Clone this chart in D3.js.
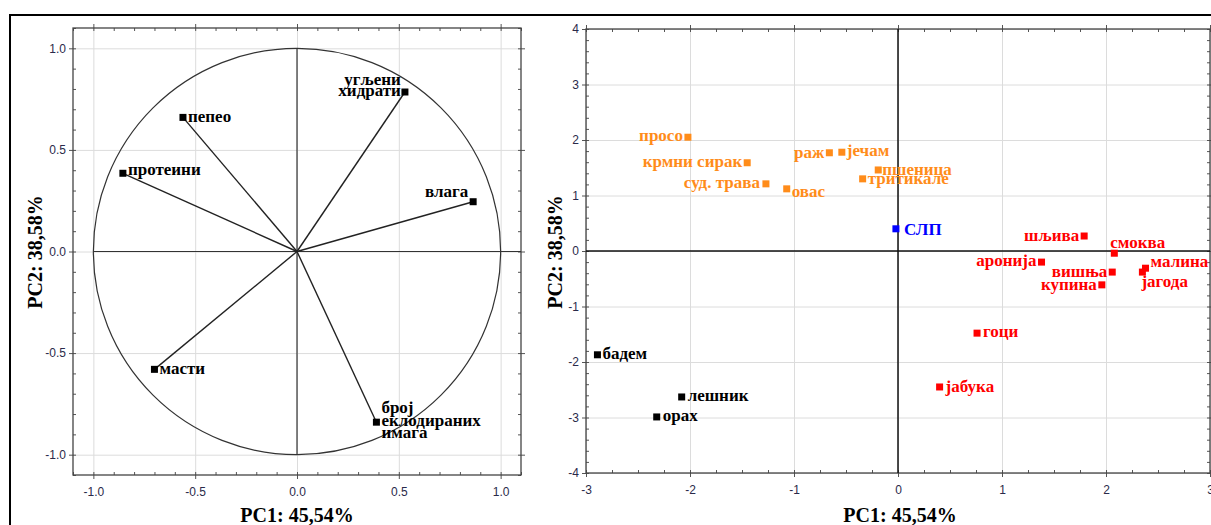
<!DOCTYPE html>
<html>
<head>
<meta charset="utf-8">
<script src="https://cdn.jsdelivr.net/npm/d3@7"></script>
<style>
  body { margin: 0; background: #fff; }
  svg { display: block; }
  .tick text { font-family: "Liberation Sans", Arial, sans-serif; font-size: 12px; fill: #2a2a4a; }
  .lbl { font-family: "Liberation Serif", "Times New Roman", serif; font-weight: bold; font-size: 17px; }
  .title { font-family: "Liberation Serif", "Times New Roman", serif; font-weight: bold; font-size: 20px; fill: #000; }
</style>
</head>
<body>
<div id="chart"></div>
<script>
// ---- data: loadings (left panel) ----
const loadingNames = ["угљени\nхидрати", "пепео", "протеини", "влага", "масти", "број\nеклодираних\nимага"];
const loadingPC1 = [0.53, -0.56, -0.855, 0.865, -0.70, 0.39];
const loadingPC2 = [0.785, 0.66, 0.385, 0.245, -0.58, -0.84];

// ---- data: scores (right panel) ----
const scoreNames = ["просо", "крмни сирак", "суд. трава", "овас", "раж", "јечам", "пшеница", "тритикале",
  "СЛП",
  "шљива", "смоква", "аронија", "вишња", "купина", "малина", "јагода", "гоци", "јабука",
  "бадем", "лешник", "орах"];
const scorePC1 = [-2.02, -1.45, -1.27, -1.07, -0.66, -0.54, -0.19, -0.34,
  -0.02,
  1.79, 2.08, 1.38, 2.06, 1.96, 2.38, 2.35, 0.76, 0.40,
  -2.89, -2.08, -2.32];
const scorePC2 = [2.05, 1.59, 1.21, 1.12, 1.77, 1.78, 1.46, 1.30,
  0.40,
  0.27, -0.04, -0.20, -0.38, -0.61, -0.31, -0.38, -1.48, -2.45,
  -1.87, -2.63, -2.99];
const scoreGroup = ["cereal", "cereal", "cereal", "cereal", "cereal", "cereal", "cereal", "cereal",
  "ref",
  "fruit", "fruit", "fruit", "fruit", "fruit", "fruit", "fruit", "fruit", "fruit",
  "nut", "nut", "nut"];

// ---- tick labels ----
const leftTicks = [-1, -0.5, 0, 0.5, 1];
const rightXTicks = [-3, -2, -1, 0, 1, 2, 3];
const rightYTicks = [-4, -3, -2, -1, 0, 1, 2, 3, 4];
const xTitle = "PC1: 45,54%";
const yTitle = "PC2: 38,58%";

// ---- styles / label placement ----
const groupColor = { cereal: "#ff8c1a", ref: "#0000ff", fruit: "#ff0000", nut: "#000000" };
const loadPlace = {
  "угљени\nхидрати": { dx: -4, dy: -7, anchor: "end", lh: 11 },
  "пепео": { dx: 5, dy: 5, anchor: "start" },
  "протеини": { dx: 5, dy: 2, anchor: "start" },
  "влага": { dx: -5, dy: -5, anchor: "end" },
  "масти": { dx: 5, dy: 5, anchor: "start" },
  "број\nеклодираних\nимага": { dx: 5, dy: -9, anchor: "start", lh: 12.5 }
};
const scorePlace = {
  "просо": { dx: -5, dy: 4, anchor: "end" },
  "крмни сирак": { dx: -5, dy: 4, anchor: "end" },
  "суд. трава": { dx: -6, dy: 4, anchor: "end" },
  "овас": { dx: 5, dy: 8, anchor: "start" },
  "раж": { dx: -5, dy: 5, anchor: "end" },
  "јечам": { dx: 5, dy: 4, anchor: "start" },
  "пшеница": { dx: 4, dy: 5, anchor: "start" },
  "тритикале": { dx: 5, dy: 5, anchor: "start" },
  "СЛП": { dx: 8, dy: 6, anchor: "start", size: 17 },
  "шљива": { dx: -5, dy: 5, anchor: "end" },
  "смоква": { dx: -4, dy: -5, anchor: "start" },
  "аронија": { dx: -5, dy: 4, anchor: "end" },
  "вишња": { dx: -5, dy: 5, anchor: "end" },
  "купина": { dx: -5, dy: 5, anchor: "end" },
  "малина": { dx: 5, dy: -1, anchor: "start" },
  "јагода": { dx: -1, dy: 15, anchor: "start" },
  "гоци": { dx: 6, dy: 4, anchor: "start" },
  "јабука": { dx: 6, dy: 5, anchor: "start" },
  "бадем": { dx: 5, dy: 4, anchor: "start" },
  "лешник": { dx: 6, dy: 4, anchor: "start" },
  "орах": { dx: 6, dy: 4, anchor: "start" }
};

const W = 1211, H = 525;
const svg = d3.select("#chart").append("svg").attr("width", W).attr("height", H);

// outer frame
svg.append("rect")
  .attr("x", 10).attr("y", 15).attr("width", W + 20).attr("height", H + 20)
  .attr("fill", "none").attr("stroke", "#000").attr("stroke-width", 2);

const fmt1 = d => d.toFixed(1);
const fmt0 = d => String(d);

// draws grid, frame, ticks and labels of one panel
function frame(x, y, xt, yt, xMinor, yMinor, fx, fy) {
  const [l, r] = x.range(), [b, t] = y.range();
  const g = svg.append("g");

  // grid
  g.append("g").attr("transform", `translate(0,${b})`)
    .call(d3.axisBottom(x).tickValues(xt).tickSize(-(b - t)).tickFormat(""))
    .call(a => a.select(".domain").remove())
    .call(a => a.selectAll("line").attr("stroke", "#dcdcdc"));
  g.append("g").attr("transform", `translate(${l},0)`)
    .call(d3.axisLeft(y).tickValues(yt).tickSize(-(r - l)).tickFormat(""))
    .call(a => a.select(".domain").remove())
    .call(a => a.selectAll("line").attr("stroke", "#dcdcdc"));

  // minor ticks, inward
  const minor = [
    [d3.axisBottom(x).tickValues(xMinor), `translate(0,${b})`],
    [d3.axisTop(x).tickValues(xMinor), `translate(0,${t})`],
    [d3.axisLeft(y).tickValues(yMinor), `translate(${l},0)`],
    [d3.axisRight(y).tickValues(yMinor), `translate(${r},0)`]
  ];
  minor.forEach(([ax, tr]) => {
    g.append("g").attr("transform", tr)
      .call(ax.tickSize(-3).tickFormat(""))
      .call(a => a.select(".domain").remove())
      .call(a => a.selectAll("line").attr("stroke", "#555"));
  });

  // major ticks, outward
  g.append("g").attr("transform", `translate(0,${b})`)
    .call(d3.axisBottom(x).tickValues(xt).tickSize(4).tickPadding(8).tickFormat(fx))
    .call(a => a.select(".domain").remove())
    .call(a => a.selectAll("line").attr("stroke", "#555"));
  g.append("g").attr("transform", `translate(0,${t})`)
    .call(d3.axisTop(x).tickValues(xt).tickSize(4).tickFormat(""))
    .call(a => a.select(".domain").remove())
    .call(a => a.selectAll("line").attr("stroke", "#555"));
  g.append("g").attr("transform", `translate(${l},0)`)
    .call(d3.axisLeft(y).tickValues(yt).tickSize(4).tickPadding(3).tickFormat(fy))
    .call(a => a.select(".domain").remove())
    .call(a => a.selectAll("line").attr("stroke", "#555"));
  g.append("g").attr("transform", `translate(${r},0)`)
    .call(d3.axisRight(y).tickValues(yt).tickSize(4).tickFormat(""))
    .call(a => a.select(".domain").remove())
    .call(a => a.selectAll("line").attr("stroke", "#555"));

  g.append("rect")
    .attr("x", l).attr("y", t).attr("width", r - l).attr("height", b - t)
    .attr("fill", "none").attr("stroke", "#444").attr("stroke-width", 1.3);
  return g;
}

function titles(cx, xTitleY, yTitleX, cy) {
  svg.append("text").attr("class", "title")
    .attr("x", cx).attr("y", xTitleY).attr("text-anchor", "middle").text(xTitle);
  svg.append("text").attr("class", "title")
    .attr("transform", `translate(${yTitleX},${cy}) rotate(-90)`)
    .attr("text-anchor", "middle").text(yTitle);
}

function label(g, px, py, name, p, color) {
  const t = g.append("text").attr("class", "lbl")
    .attr("x", px + p.dx).attr("y", py + p.dy)
    .attr("text-anchor", p.anchor).attr("fill", color);
  if (p.size) t.style("font-size", p.size + "px");
  name.split("\n").forEach((s, i) => {
    t.append("tspan").attr("x", px + p.dx).attr("dy", i === 0 ? 0 : (p.lh || 12)).text(s);
  });
}

// ---------- left panel: loadings ----------
const xL = d3.scaleLinear().domain([-1.1, 1.1]).range([73, 521]);
const yL = d3.scaleLinear().domain([-1.1, 1.1]).range([475, 28]);
const minorL = d3.range(-11, 12).map(d => d / 10);
const gL = frame(xL, yL, leftTicks, leftTicks, minorL, minorL, fmt1, fmt1);

gL.append("ellipse")
  .attr("cx", xL(0)).attr("cy", yL(0))
  .attr("rx", xL(1) - xL(0)).attr("ry", yL(0) - yL(1))
  .attr("fill", "none").attr("stroke", "#333").attr("stroke-width", 1.2);
gL.append("line")
  .attr("x1", xL(-1)).attr("x2", xL(1.1)).attr("y1", yL(0)).attr("y2", yL(0))
  .attr("stroke", "#333").attr("stroke-width", 1.2);
gL.append("line")
  .attr("x1", xL(0)).attr("x2", xL(0)).attr("y1", yL(1)).attr("y2", yL(-1))
  .attr("stroke", "#333").attr("stroke-width", 1.2);

loadingNames.forEach((n, i) => {
  const px = xL(loadingPC1[i]), py = yL(loadingPC2[i]);
  gL.append("line")
    .attr("x1", xL(0)).attr("y1", yL(0)).attr("x2", px).attr("y2", py)
    .attr("stroke", "#222").attr("stroke-width", 1.4);
  gL.append("rect").attr("x", px - 3.5).attr("y", py - 3.5).attr("width", 7).attr("height", 7).attr("fill", "#000");
  label(gL, px, py, n, loadPlace[n], "#000");
});
titles(297, 522, 42, 252);

// ---------- right panel: scores ----------
const xR = d3.scaleLinear().domain([-3, 3]).range([586, 1210]);
const yR = d3.scaleLinear().domain([-4, 4]).range([473, 29]);
const gR = frame(xR, yR, rightXTicks, rightYTicks,
  d3.range(-12, 13).map(d => d / 4), d3.range(-20, 21).map(d => d / 5), fmt0, fmt0);

gR.append("line")
  .attr("x1", xR(-3)).attr("x2", xR(3)).attr("y1", yR(0)).attr("y2", yR(0))
  .attr("stroke", "#111").attr("stroke-width", 1.5);
gR.append("line")
  .attr("x1", xR(0)).attr("x2", xR(0)).attr("y1", yR(4)).attr("y2", yR(-4))
  .attr("stroke", "#111").attr("stroke-width", 1.5);

scoreNames.forEach((n, i) => {
  const px = xR(scorePC1[i]), py = yR(scorePC2[i]);
  const c = groupColor[scoreGroup[i]];
  gR.append("rect").attr("x", px - 3.5).attr("y", py - 3.5).attr("width", 7).attr("height", 7).attr("fill", c);
  label(gR, px, py, n, scorePlace[n], c);
});
titles(900, 522, 562, 252);
</script>
</body>
</html>
